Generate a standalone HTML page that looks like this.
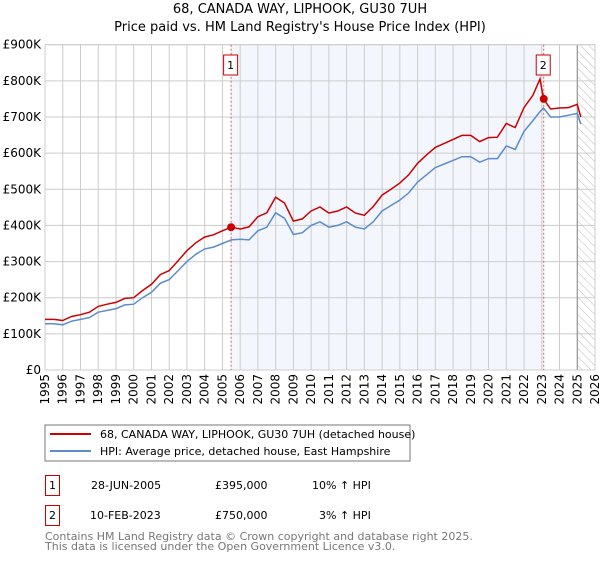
<!DOCTYPE html>
<html><head><meta charset="utf-8"><style>
body{margin:0;background:#fff;font-family:"DejaVu Sans","Liberation Sans",sans-serif;}
svg text{font-family:"DejaVu Sans","Liberation Sans",sans-serif;}
</style></head><body>
<svg id="c" width="600" height="560" xmlns="http://www.w3.org/2000/svg">
<defs><pattern id="hatch" width="6" height="6" patternUnits="userSpaceOnUse" patternTransform="rotate(-45)"><line x1="0" y1="0" x2="0" y2="6" stroke="#bbb" stroke-width="1"/></pattern></defs>
<text x="300" y="13" text-anchor="middle" font-size="13">68, CANADA WAY, LIPHOOK, GU30 7UH</text>
<text x="300" y="31" text-anchor="middle" font-size="13">Price paid vs. HM Land Registry's House Price Index (HPI)</text>
<g id="plot"></g>
<rect x="45" y="425" width="365" height="36" fill="#fff" stroke="#777"/>
<line x1="50" y1="434" x2="91" y2="434" stroke="#cc0000" stroke-width="2"/>
<text x="100" y="438" font-size="11">68, CANADA WAY, LIPHOOK, GU30 7UH (detached house)</text>
<line x1="50" y1="451" x2="91" y2="451" stroke="#5b8ccc" stroke-width="2"/>
<text x="100" y="455" font-size="11">HPI: Average price, detached house, East Hampshire</text>
<g font-size="11">
<rect x="45.5" y="475.5" width="14" height="20" fill="#fff" stroke="#cc0000"/>
<text x="52.5" y="489" text-anchor="middle">1</text>
<text x="91" y="489">28-JUN-2005</text><text x="215" y="489">£395,000</text><text x="312" y="489">10% ↑ HPI</text>
<rect x="45.5" y="505.5" width="14" height="20" fill="#fff" stroke="#cc0000"/>
<text x="52.5" y="519" text-anchor="middle">2</text>
<text x="90" y="519">10-FEB-2023</text><text x="215" y="519">£750,000</text><text x="319" y="519">3% ↑ HPI</text>
</g>
<text x="45" y="540" font-size="11" fill="#777">Contains HM Land Registry data © Crown copyright and database right 2025.</text>
<text x="45" y="550" font-size="11" fill="#777">This data is licensed under the Open Government Licence v3.0.</text>
</svg>
<script>
const years=[1995,1995.5,1996,1996.5,1997,1997.5,1998,1998.5,1999,1999.5,2000,2000.5,2001,2001.5,2002,2002.5,2003,2003.5,2004,2004.5,2005,2005.5,2006,2006.5,2007,2007.5,2008,2008.5,2009,2009.5,2010,2010.5,2011,2011.5,2012,2012.5,2013,2013.5,2014,2014.5,2015,2015.5,2016,2016.5,2017,2017.5,2018,2018.5,2019,2019.5,2020,2020.5,2021,2021.5,2022,2022.5,2022.9,2023.1,2023.5,2024,2024.5,2025,2025.2];
const hpi=[128,128,125,135,140,145,160,165,170,180,182,200,215,240,250,275,300,320,335,340,350,360,362,360,385,395,435,420,375,380,400,410,395,400,410,395,390,410,440,455,470,490,520,540,560,570,580,590,590,575,585,585,620,610,660,690,715,725,700,700,705,710,680];
const price=[140,140,137,148,153,160,176,182,187,198,200,220,237,264,275,302,330,352,368,374,385,395,390,396,424,435,478,462,412,418,440,451,434,440,451,434,428,452,484,500,517,540,572,595,616,627,638,649,649,632,643,644,682,671,726,760,805,750,722,725,726,735,700];
const yTicks=[0,100,200,300,400,500,600,700,800,900];
const yLabels=["£0","£100K","£200K","£300K","£400K","£500K","£600K","£700K","£800K","£900K"];
const xTicks=[1995,1996,1997,1998,1999,2000,2001,2002,2003,2004,2005,2006,2007,2008,2009,2010,2011,2012,2013,2014,2015,2016,2017,2018,2019,2020,2021,2022,2023,2024,2025,2026];
const saleYears=[2005.49,2023.11];
const saleValues=[395,750];
const saleLabels=["1","2"];
const X0=45,X1=595,Y0=370,Y1=44.7;
const xs=y=>X0+(y-1995)/(2026-1995)*(X1-X0);
const ys=v=>Y0-v/900*(Y0-Y1);
const NS="http://www.w3.org/2000/svg";
const g=document.getElementById('plot');
function mk(t,a,p){const e=document.createElementNS(NS,t);for(const k in a)e.setAttribute(k,a[k]);(p||g).appendChild(e);return e;}
let e=mk('rect',{x:xs(saleYears[0]),y:Y1,width:xs(saleYears[1])-xs(saleYears[0]),height:Y0-Y1,fill:'#eef3fc',opacity:0.7});


e=mk('rect',{x:xs(2025),y:Y1,width:X1-xs(2025),height:Y0-Y1,fill:'url(#hatch)'});


yTicks.forEach((v,i)=>{
 let l=mk('line',{x1:X0,x2:X1,y1:ys(v),y2:ys(v),stroke:'#ccc'});
 
 
 let t=mk('text',{x:X0-4,y:ys(v)+4,'text-anchor':'end','font-size':12});
 t.textContent=yLabels[i];
 
 
});
xTicks.forEach(y=>{
 let l=mk('line',{x1:xs(y),x2:xs(y),y1:Y1,y2:Y0,stroke:'#ccc'});
 
 
 let t=mk('text',{x:0,y:0,'text-anchor':'end','font-size':12,transform:`translate(${xs(y)+4},${Y0+4}) rotate(-90)`});
 t.textContent=y;
 
 
});
e=mk('line',{x1:xs(2025),x2:xs(2025),y1:Y1,y2:Y0,stroke:'#888'});


e=mk('rect',{x:X0,y:Y1,width:X1-X0,height:Y0-Y1,fill:'none',stroke:'#ccc'});


saleYears.forEach((y,i)=>{
 let l=mk('line',{x1:xs(y),x2:xs(y),y1:Y1,y2:Y0,stroke:'#e06060','stroke-dasharray':'2,2'});
 
 
});
const pts=a=>a.map((v,i)=>xs(years[i]).toFixed(1)+','+ys(v).toFixed(1)).join(' ');
e=mk('polyline',{points:pts(hpi),fill:'none',stroke:'#5b8ccc','stroke-width':1.5});


e=mk('polyline',{points:pts(price),fill:'none',stroke:'#cc0000','stroke-width':1.5});


saleYears.forEach((y,i)=>{
 let c=mk('circle',{cx:xs(y),cy:ys(saleValues[i]),r:4,fill:'#cc0000'});
 
 
 let r=mk('rect',{x:xs(y)-7.5,y:55,width:14,height:20,fill:'#fff',stroke:'#cc0000'});
 
 
 let t=mk('text',{x:xs(y)-0.5,y:69,'text-anchor':'middle','font-size':11});
 t.textContent=saleLabels[i];
 
 
});
</script>
</body></html>
